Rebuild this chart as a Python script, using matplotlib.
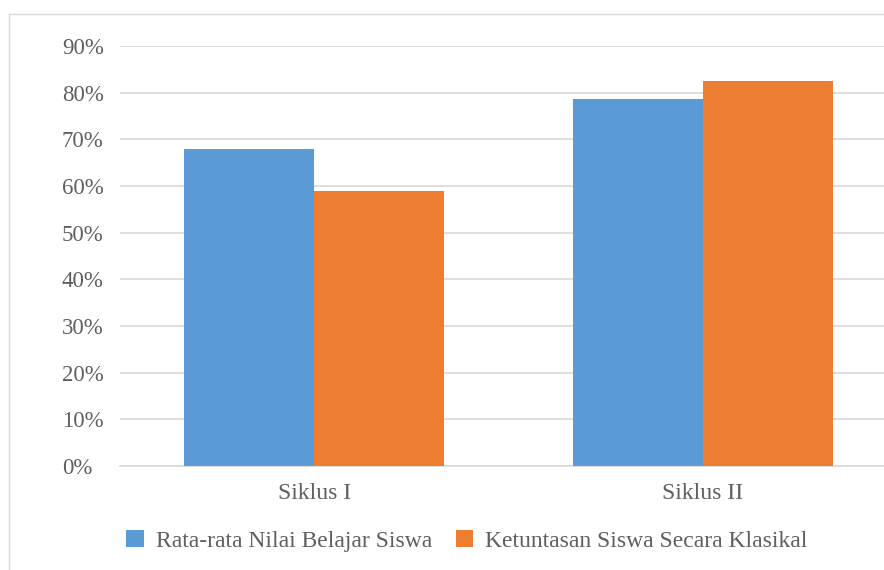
import numpy as np
import matplotlib.pyplot as plt
from matplotlib.lines import Line2D
from matplotlib.ticker import PercentFormatter

# Data
categories = ['Siklus I', 'Siklus II']
rata_rata = [68.0, 78.6]
ketuntasan = [59.0, 82.4]
series_names = ['Rata-rata Nilai Belajar Siswa', 'Ketuntasan Siswa Secara Klasikal']

blue = '#5b9bd5'
orange = '#ed7d31'
text_gray = '#5f5f5f'
grid_gray = '#d9d9d9'

plt.rcParams['font.family'] = ['Liberation Serif', 'DejaVu Serif']

fig = plt.figure(figsize=(8.84, 5.70), dpi=100)
ax = fig.add_axes([120 / 884, 1 - 466 / 570, (897 - 120) / 884, (466 - 46) / 570])

# outer chart frame (left and top edges only are visible in the crop)
fig.lines.append(Line2D([9 / 884, 9 / 884], [0, 1 - 14 / 570], transform=fig.transFigure,
                        color=grid_gray, linewidth=1.0))
fig.lines.append(Line2D([9 / 884, 1], [1 - 14 / 570, 1 - 14 / 570], transform=fig.transFigure,
                        color=grid_gray, linewidth=1.0))

x = np.arange(len(categories))
width = 0.334

ax.bar(x - width / 2, rata_rata, width, color=blue, label=series_names[0], zorder=3)
ax.bar(x + width / 2, ketuntasan, width, color=orange, label=series_names[1], zorder=3)

ax.set_xlim(-0.5, 1.5)
ax.set_ylim(0, 90)
ax.set_yticks(np.arange(0, 91, 10))
ax.yaxis.set_major_formatter(PercentFormatter(decimals=0))
ax.set_xticks(x)
ax.set_xticklabels(categories)

ax.grid(axis='y', color=grid_gray, linewidth=1.2, zorder=0)
for side in ['top', 'right', 'left']:
    ax.spines[side].set_visible(False)
ax.spines['bottom'].set_color(grid_gray)
ax.spines['bottom'].set_linewidth(1.2)
ax.tick_params(axis='both', length=0, colors=text_gray)
ax.tick_params(axis='y', labelsize=16.5, pad=(120 - 62) * 72 / 100)
ax.tick_params(axis='x', labelsize=17, pad=12)
for lab in ax.get_yticklabels():
    lab.set_horizontalalignment('left')

fig.legend(loc='center', bbox_to_anchor=(467 / 884, 1 - 541 / 570), ncol=2,
           frameon=False, fontsize=17, labelcolor=text_gray,
           handlelength=0.75, handleheight=0.75, handletextpad=0.5, columnspacing=1.0)

fig.savefig('out.png', dpi=100)
